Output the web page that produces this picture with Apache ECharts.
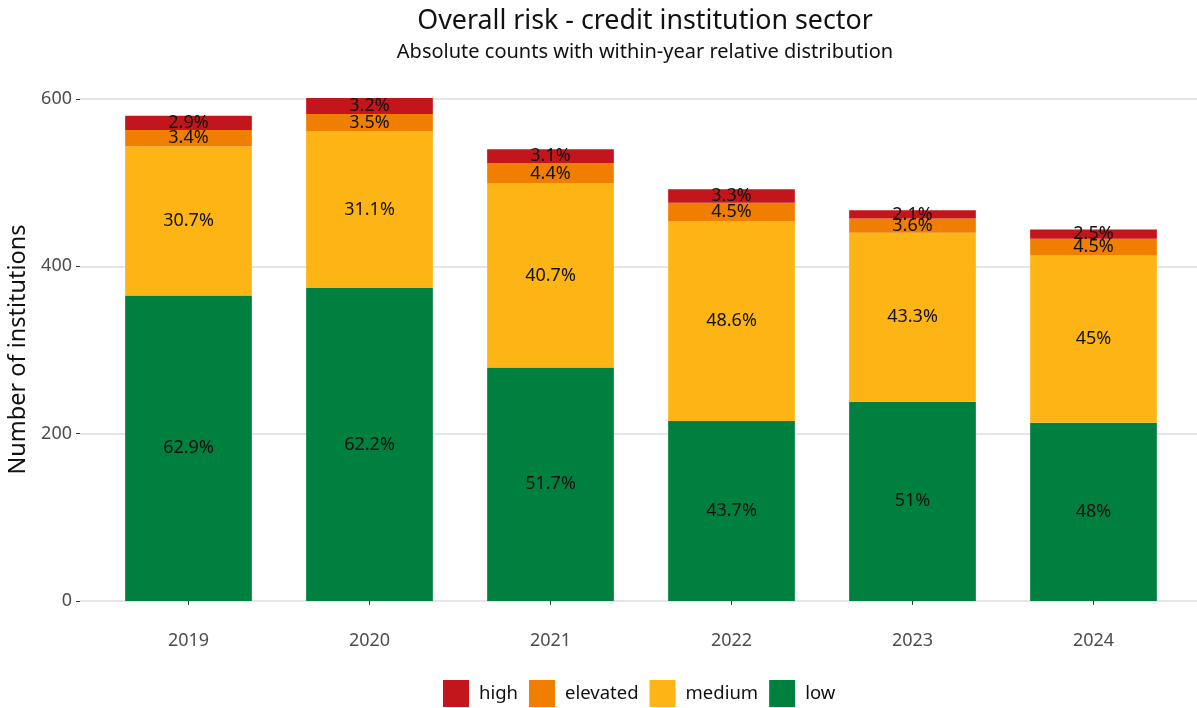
<!DOCTYPE html>
<html>
<head>
<meta charset="utf-8">
<script src="https://cdn.jsdelivr.net/npm/echarts@6/dist/echarts.min.js"></script>
<style>
  html, body { margin: 0; padding: 0; background: #ffffff; }
  #chart { width: 1197px; height: 708px; }
</style>
</head>
<body>
<div id="chart"></div>
<script>
// Risk classification counts per year (number of institutions)
const years = ['2019', '2020', '2021', '2022', '2023', '2024'];
const low = [365, 374, 279, 215, 238, 213];
const medium = [178, 187, 220, 239, 202, 200];
const elevated = [20, 21, 24, 22, 17, 20];
const high = [17, 19, 17, 16, 10, 11];
const yTicks = [0, 200, 400, 600];

const totals = years.map((_, i) => low[i] + medium[i] + elevated[i] + high[i]);

// Share of a segment within its year, one decimal, trailing zero dropped
function pctLabel(value, i) {
  const p = Math.round(value / totals[i] * 1000) / 10;
  return String(p) + '%';
}

const FONT = '"Noto Sans", "Open Sans", sans-serif';
const colors = { high: '#c3161c', elevated: '#f07f00', medium: '#fdb515', low: '#00803f' };
const Y_MIN = -30, Y_MAX = 631;

function makeSeries(name, values) {
  return {
    name: name,
    type: 'bar',
    stack: 'total',
    xAxisIndex: 1,
    yAxisIndex: 1,
    barWidth: '70%',
    itemStyle: { color: colors[name] },
    label: {
      show: true,
      position: 'inside',
      color: '#111111',
      fontFamily: FONT,
      fontSize: 18,
      formatter: (p) => pctLabel(p.value, p.dataIndex)
    },
    emphasis: { disabled: true },
    data: values
  };
}

const chart = echarts.init(document.getElementById('chart'), null, { renderer: 'canvas' });
chart.setOption({
  backgroundColor: '#ffffff',
  animation: false,
  title: [
    {
      text: 'Overall risk - credit institution sector',
      left: 640, top: 3, textAlign: 'center',
      textStyle: { fontFamily: FONT, fontSize: 26.8, fontWeight: 'normal', color: '#111111' }
    },
    {
      text: 'Absolute counts with within-year relative distribution',
      left: 640, top: 37, textAlign: 'center',
      textStyle: { fontFamily: FONT, fontSize: 20, fontWeight: 'normal', color: '#111111' }
    }
  ],
  legend: {
    top: 680,
    left: 443,
    padding: 0,
    itemWidth: 26,
    itemHeight: 27,
    itemGap: 11,
    icon: 'rect',
    data: ['high', 'elevated', 'medium', 'low'],
    textStyle: { fontFamily: FONT, fontSize: 18.5, color: '#111111', padding: [0, 0, 0, 5] },
    selectedMode: false
  },
  grid: [
    // full panel: y axis, ticks and gridlines
    { left: 80, right: 0, top: 73, bottom: 82, outerBoundsMode: 'none', containLabel: false },
    // bar area, inset by the discrete axis padding
    { left: 98, right: 13, top: 73, bottom: 82, outerBoundsMode: 'none', containLabel: false }
  ],
  xAxis: [
    { gridIndex: 0, type: 'value', min: 0, max: 1, show: false },
    {
      gridIndex: 1,
      type: 'category',
      data: years,
      axisLine: { show: false },
      splitLine: { show: false },
      axisTick: { show: true, alignWithLabel: true, length: 4, lineStyle: { color: '#333333', width: 1 } },
      axisLabel: { margin: 6, fontFamily: FONT, fontSize: 18, color: '#4d4d4d' }
    }
  ],
  yAxis: [
    {
      gridIndex: 0,
      type: 'value',
      min: Y_MIN,
      max: Y_MAX,
      name: 'Number of institutions',
      nameLocation: 'middle',
      nameGap: 41,
      nameTextStyle: { fontFamily: FONT, fontSize: 23.5, color: '#111111' },
      axisLine: { show: false },
      axisTick: { show: true, length: 4, customValues: yTicks, lineStyle: { color: '#333333', width: 1 } },
      axisLabel: { customValues: yTicks, margin: 8, fontFamily: FONT, fontSize: 18, color: '#4d4d4d' },
      splitLine: { show: true, lineStyle: { color: '#dcdcdc', width: 1.6 } }
    },
    { gridIndex: 1, type: 'value', min: Y_MIN, max: Y_MAX, show: false, splitLine: { show: false } }
  ],
  series: [
    makeSeries('low', low),
    makeSeries('medium', medium),
    makeSeries('elevated', elevated),
    makeSeries('high', high)
  ]
});
</script>
</body>
</html>
